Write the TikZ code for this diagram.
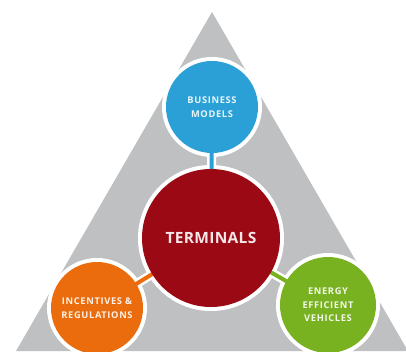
\documentclass[tikz,border=0pt]{standalone}
\usepackage{fontspec}
\setsansfont{Open Sans}[LetterSpace=2]
\newfontfamily\etiqueta{Open Sans}[LetterSpace=7]
\usepackage{tikz}
\usetikzlibrary{backgrounds}
\definecolor{gris}{RGB}{190,192,194}
\definecolor{azul}{RGB}{42,160,215}
\definecolor{rojo}{RGB}{155,10,20}
\definecolor{naranja}{RGB}{234,108,12}
\definecolor{verde}{RGB}{121,178,32}

\tikzset{
  burbuja/.style={circle, inner sep=0pt, align=center, text=white, text opacity=0.9,
    font=\etiqueta\bfseries\fontsize{9.3}{13.5}\selectfont},
  enlace/.style={line width=4pt},
  halo/.style={white, line width=9pt},
}

\begin{document}
\begin{tikzpicture}[x=1pt,y=-1pt]
  \useasboundingbox (0,0) rectangle (406,351);
  \clip (0,0) rectangle (406,351);

  % Circulos
  \node[burbuja, fill=rojo, minimum size=138pt,
    font=\sffamily\bfseries\fontsize{15.5}{20}\selectfont] (terminales) at (211,238) {TERMINALS};
  \node[burbuja, fill=azul, minimum size=92pt] (negocio) at (212,107) {BUSINESS\\MODELS};
  \node[burbuja, fill=naranja, minimum size=92pt] (incentivos) at (97,308) {INCENTIVES \&\\REGULATIONS};
  \node[burbuja, fill=verde, minimum size=96pt] (vehiculos) at (328,305) {ENERGY\\EFFICIENT\\VEHICLES};

  % Fondo: triangulo, bordes blancos y enlaces
  \begin{pgfonlayer}{background}
    \fill[gris] (212,12) -- (16,351) -- (408,351) -- cycle;
    \foreach \n in {negocio, incentivos, vehiculos}
      \draw[halo] (\n.center) -- (terminales.center);
    \foreach \n/\r in {terminales/73, negocio/50, incentivos/50, vehiculos/52}
      \fill[white] (\n.center) circle (\r);
    \foreach \n/\c in {negocio/azul, incentivos/naranja, vehiculos/verde}
      \draw[enlace, \c] (\n.center) -- (terminales.center);
  \end{pgfonlayer}
\end{tikzpicture}
\end{document}
